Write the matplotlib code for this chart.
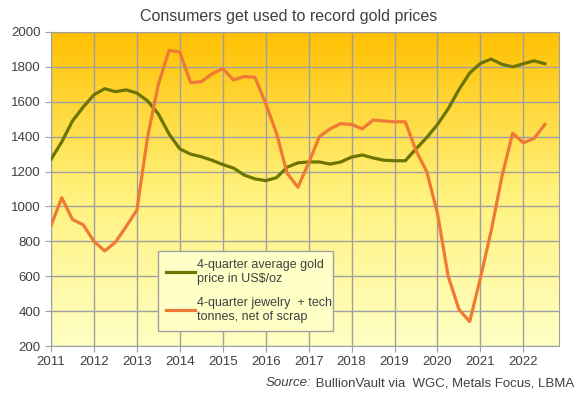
import matplotlib.pyplot as plt
import numpy as np
from matplotlib.colors import LinearSegmentedColormap

plt.rcParams['font.family'] = ['Liberation Sans', 'DejaVu Sans']

# quarterly data, 2011 Q1 .. 2022 Q3
quarters = np.arange(2011.0, 2022.51, 0.25)
gold_price = [1270, 1370, 1490, 1570, 1640, 1675, 1658, 1668, 1650, 1605,
              1530, 1415, 1330, 1300, 1285, 1265, 1240, 1220, 1180, 1158,
              1148, 1165, 1225, 1250, 1255, 1255, 1243, 1255, 1283, 1295,
              1278, 1265, 1262, 1262, 1330, 1395, 1470, 1560, 1670, 1765,
              1820, 1845, 1815, 1800, 1818, 1835, 1818]
jewelry_tech = [890, 1050, 925, 895, 800, 745, 795, 885, 980, 1400,
                1700, 1895, 1885, 1710, 1715, 1760, 1790, 1725, 1745, 1740,
                1590, 1420, 1190, 1110, 1250, 1400, 1445, 1475, 1470, 1445,
                1495, 1490, 1485, 1485, 1320, 1200, 960, 600, 410, 340,
                590, 860, 1170, 1420, 1365, 1390, 1470]
years = list(range(2011, 2023))

fig = plt.figure(figsize=(5.77, 3.95), dpi=100)
ax = fig.add_axes([0.0884, 0.124, 0.8804, 0.795])

xmin, xmax, ymin, ymax = 2011, 2022.83, 200, 2000
cmap = LinearSegmentedColormap.from_list('bg', ['#FFFFC4', '#FFF17A', '#FFC000'])
grad = np.linspace(0, 1, 256).reshape(-1, 1)
ax.imshow(grad, cmap=cmap, aspect='auto', origin='lower',
          extent=[xmin, xmax, ymin, ymax], zorder=0)

ax.plot(quarters, gold_price, color='#6B7500', lw=2.3, zorder=3,
        label='4-quarter average gold\nprice in US$/oz')
ax.plot(quarters, jewelry_tech, color='#EE7A35', lw=2.3, zorder=3,
        label='4-quarter jewelry  + tech\ntonnes, net of scrap')

ax.set_xlim(xmin, xmax)
ax.set_ylim(ymin, ymax)
ax.set_xticks(years)
ax.set_yticks(range(200, 2001, 200))
ax.grid(True, color='#A0A0A0', lw=1, zorder=1)
ax.set_axisbelow(False)
for s in ax.spines.values():
    s.set_color('#A0A0A0')
ax.tick_params(colors='#A0A0A0', labelcolor='#404040', labelsize=9.5, length=4)

leg = ax.legend(loc='lower left', bbox_to_anchor=(0.211, 0.048, 0.345, 0.255),
                mode='expand', fontsize=9, frameon=True, fancybox=False,
                facecolor='#FFFFC8', edgecolor='#A0A0A0', framealpha=1,
                handlelength=2.3, handletextpad=0.15, labelspacing=1.0,
                borderpad=0.65, borderaxespad=0)
for t in leg.get_texts():
    t.set_color('#404040')
leg.get_frame().set_linewidth(1)

fig.text(0.5, 0.957, 'Consumers get used to record gold prices',
         ha='center', va='center', fontsize=11.5, color='#404040')
src = fig.text(266 / 577, 0.03, 'Source:', ha='left', va='center', fontsize=9.5,
               color='#404040', style='italic')
ax.annotate(' BullionVault via  WGC, Metals Focus, LBMA', xy=(1, 0.5),
            xycoords=src, ha='left', va='center', fontsize=9.5,
            color='#404040', annotation_clip=False)

fig.savefig('out.png', dpi=100)
